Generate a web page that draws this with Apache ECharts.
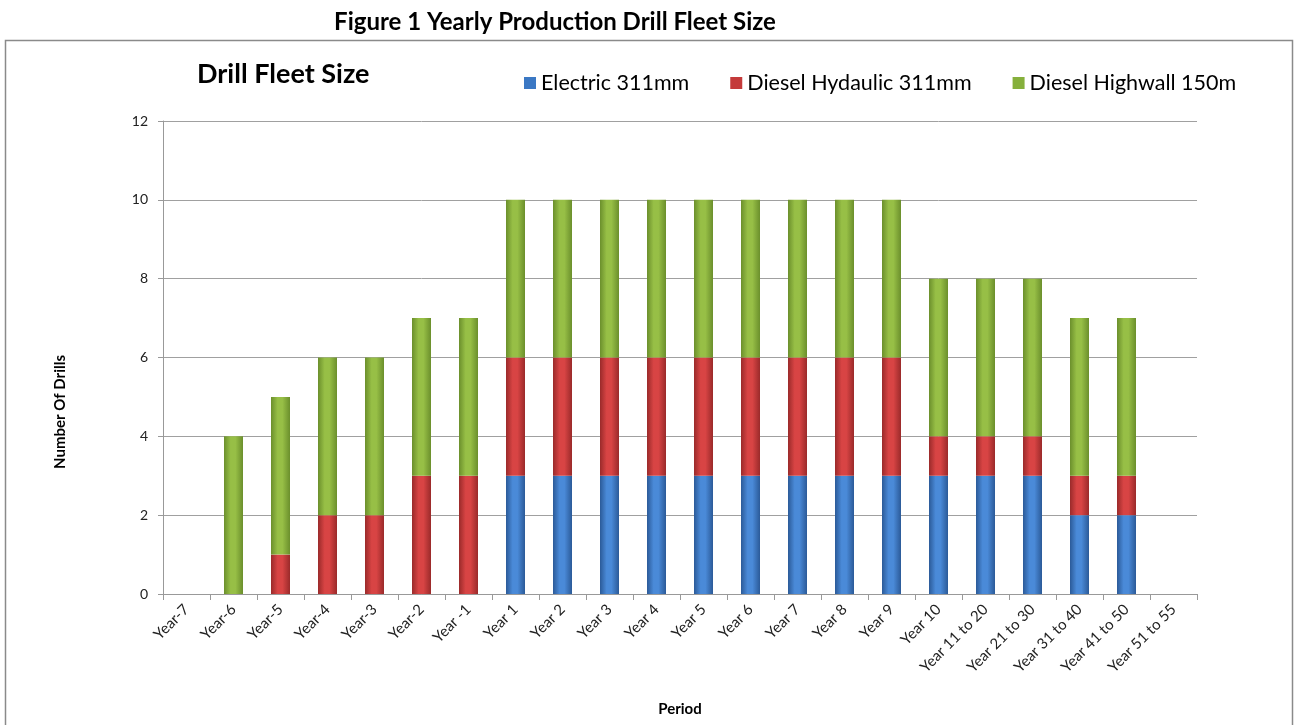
<!DOCTYPE html>
<html><head><meta charset="utf-8">
<script src="https://cdn.jsdelivr.net/npm/echarts@6/dist/echarts.min.js"></script>
<style>html,body{margin:0;padding:0;background:#fff}#c{width:1300px;height:725px}</style>
</head><body><div id="c"></div>
<script>
const categories = ['Year-7','Year-6','Year-5','Year-4','Year-3','Year-2','Year -1','Year 1','Year 2','Year 3','Year 4','Year 5','Year 6','Year 7','Year 8','Year 9','Year 10','Year 11 to 20','Year 21 to 30','Year 31 to 40','Year 41 to 50','Year 51 to 55'];
const electric = [0,0,0,0,0,0,0,3,3,3,3,3,3,3,3,3,3,3,3,2,2,0];
const dieselHyd = [0,0,1,2,2,3,3,3,3,3,3,3,3,3,3,3,1,1,1,1,1,0];
const highwall = [0,4,4,4,4,4,4,4,4,4,4,4,4,4,4,4,4,4,4,4,4,0];
const seriesNames = ['Electric 311mm','Diesel Hydaulic 311mm','Diesel Highwall 150m'];
const yTicks = [0,2,4,6,8,10,12];

const font = 'Lato, "Open Sans", sans-serif';
function grad(edge, mid){
  return new echarts.graphic.LinearGradient(0,0,1,0,[
    {offset:0,color:edge},{offset:0.35,color:mid},{offset:0.6,color:mid},{offset:1,color:edge}]);
}
const colors = [grad('#2b5a98','#4a8ad8'), grad('#9a2a2a','#d84444'), grad('#6b8f2c','#97bf46')];
const legendColors = ['#3b78c4','#c43a3a','#86b03c'];

const chart = echarts.init(document.getElementById('c'));
function mk(name, data, i){
  return {name, type:'bar', stack:'t', data: data.map(v=> v===0? null : v), barWidth: 19,
    itemStyle:{color: colors[i]}, emphasis:{disabled:true}};
}
chart.setOption({
  animation:false,
  color: legendColors,
  title:[
    {text:'Figure 1 Yearly Production Drill Fleet Size', left:550, top:5, textAlign:'center',
      textStyle:{fontFamily:font, fontWeight:'bold', fontSize:24, color:'#000'}},
    {text:'Drill Fleet Size', left:192, top:56,
      textStyle:{fontFamily:font, fontWeight:'bold', fontSize:27, color:'#000'}}
  ],
  graphic:[
    {type:'rect', shape:{x:5.5, y:40.5, width:1287, height:700}, style:{fill:'none', stroke:'#8a8a8a', lineWidth:1.5}, silent:true},
    {type:'text', x:60, y:412, rotation:Math.PI/2, style:{text:'Number Of Drills', fontFamily:font, fontWeight:'bold', fontSize:15, fill:'#000', align:'center', verticalAlign:'middle'}, silent:true}
  ],
  legend:{left:519, top:67, itemWidth:12, itemHeight:12, itemGap:41, icon:'rect',
    textStyle:{fontFamily:font, fontSize:21.5, color:'#000'},
    data: seriesNames.map((n,i)=>({name:n, itemStyle:{color:legendColors[i]}}))},
  grid:{left:163, right:103, top:121, bottom:131, containLabel:false},
  xAxis:{type:'category', data:categories, name:'Period', nameLocation:'middle', nameGap:108,
    nameTextStyle:{fontFamily:font, fontWeight:'bold', fontSize:15, color:'#000'},
    axisLine:{lineStyle:{color:'#999'}}, axisTick:{show:true, length:6, lineStyle:{color:'#999'}, alignWithLabel:false},
    axisLabel:{rotate:45, interval:0, fontFamily:font, fontSize:15, color:'#222', margin:13}},
  yAxis:{type:'value', min:0, max:12, interval:2,
    axisLine:{show:true, lineStyle:{color:'#999'}}, axisTick:{show:true, length:5, lineStyle:{color:'#999'}},
    splitLine:{lineStyle:{color:'#a0a0a0'}},
    axisLabel:{fontFamily:font, fontSize:14, color:'#222', margin:15,
      formatter: v => yTicks.includes(v) ? String(v) : ''}},
  series:[mk(seriesNames[0], electric, 0), mk(seriesNames[1], dieselHyd, 1), mk(seriesNames[2], highwall, 2)]
});
</script></body></html>
